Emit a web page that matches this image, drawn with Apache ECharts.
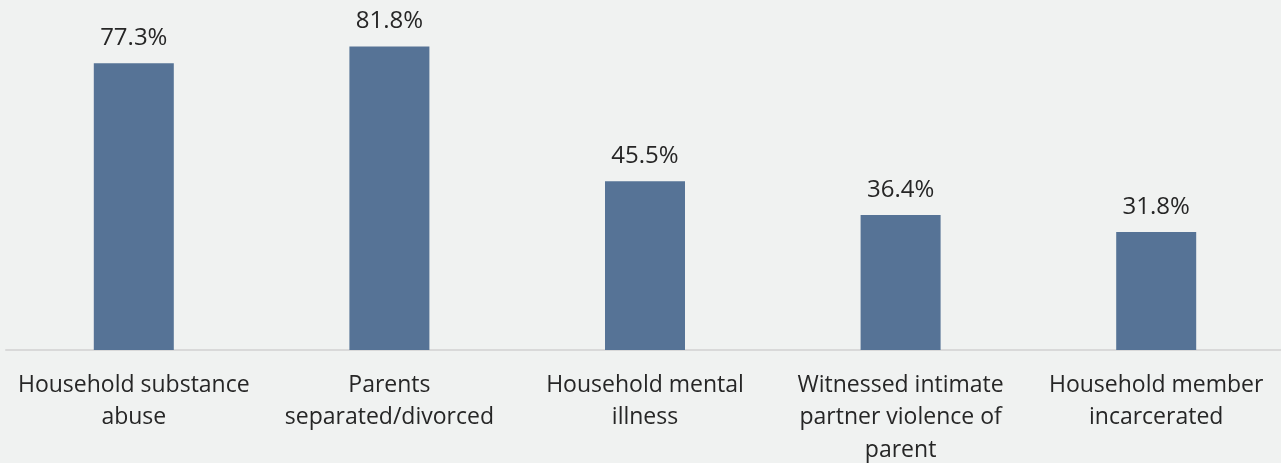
<!DOCTYPE html>
<html>
<head>
<meta charset="utf-8">
<script src="https://cdn.jsdelivr.net/npm/echarts@6/dist/echarts.min.js"></script>
<style>
  html, body { margin: 0; padding: 0; background: #f0f2f1; }
  #chart { width: 1281px; height: 463px; }
</style>
</head>
<body>
<div id="chart"></div>
<script>
// Household adverse experiences, share of respondents (%)
const categories = [
  'Household substance\nabuse',
  'Parents\nseparated/divorced',
  'Household mental\nillness',
  'Witnessed intimate\npartner violence of\nparent',
  'Household member\nincarcerated'
];
const percentages = [77.3, 81.8, 45.5, 36.4, 31.8];

const chart = echarts.init(document.getElementById('chart'), null, { renderer: 'canvas' });
const font = '"Open Sans", "Liberation Sans", sans-serif';

chart.setOption({
  backgroundColor: '#f0f2f1',
  animation: false,
  grid: {
    left: 6, width: 1278, top: 16, bottom: 113,
    containLabel: false,
    outerBoundsMode: 'none'
  },
  xAxis: {
    type: 'category',
    data: categories,
    axisLine: { lineStyle: { color: '#d9d9d9', width: 2 } },
    axisTick: { show: false },
    axisLabel: {
      interval: 0,
      color: '#262626',
      fontFamily: font,
      fontSize: 23,
      lineHeight: 32.5,
      margin: 19
    }
  },
  yAxis: {
    type: 'value',
    min: 0,
    max: 90,
    show: false,
    splitLine: { show: false }
  },
  series: [{
    type: 'bar',
    data: percentages,
    barWidth: 80,
    itemStyle: { color: '#567396' },
    label: {
      show: true,
      position: 'top',
      distance: 13,
      formatter: p => p.value.toFixed(1) + '%',
      color: '#262626',
      fontFamily: font,
      fontSize: 24
    }
  }]
});
</script>
</body>
</html>
